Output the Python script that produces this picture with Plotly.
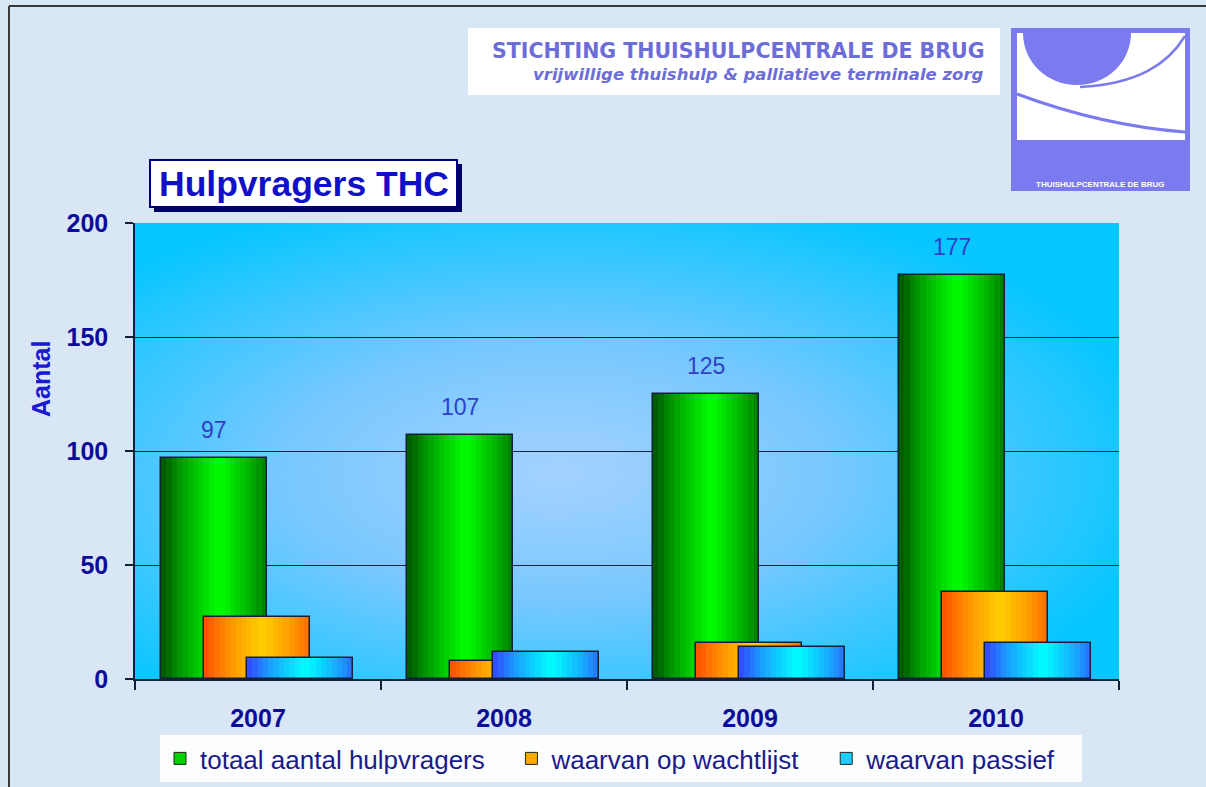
import base64
import plotly.graph_objects as go

# ---------------- data ----------------
years = ["2007", "2008", "2009", "2010"]
totaal = [97, 107, 125, 177]
wachtlijst = [27, 8, 16, 38]
passief = [9, 12, 14, 16]
series_names = ["totaal aantal hulpvragers", "waarvan op wachtlijst", "waarvan passief"]
y_ticks = [0, 50, 100, 150, 200]

# ---------------- layout constants ----------------
FIG_W, FIG_H = 1206, 787
M_L, M_R, M_T, M_B = 135, 87, 223, 108
PW = FIG_W - M_L - M_R
PH = FIG_H - M_T - M_B


def px(x):
    return (x - M_L) / PW


def py(y):
    return 1 - (y - M_T) / PH


BAR_W = 0.43
BAR_LEFT = [-0.394, -0.22, -0.045]
GRADIENTS = [("#005c00", "#00ff00"), ("#ff5500", "#ffd000"), ("#3050ff", "#00ffff")]
LEGEND_COLORS = ["#00d000", "#ffaa00", "#20ccff"]
N_STRIPS = 20
OUTLINE = "#14203a"
NAVY = "#0c0c9a"
NBSP = "\u00a0"


def hex2rgb(h):
    h = h.lstrip("#")
    return tuple(int(h[i:i + 2], 16) for i in (0, 2, 4))


def mix(c1, c2, t):
    a, b = hex2rgb(c1), hex2rgb(c2)
    return "rgb(%d,%d,%d)" % tuple(round(a[i] + (b[i] - a[i]) * t) for i in range(3))


fig = go.Figure()

series_values = [totaal, wachtlijst, passief]
for s, vals in enumerate(series_values):
    edge, mid = GRADIENTS[s]
    left = BAR_LEFT[s]
    step = BAR_W / N_STRIPS
    for i in range(N_STRIPS):
        t = (i + 0.5) / N_STRIPS
        k = max(0.0, 1 - abs(2 * t - 1.1)) ** 0.75
        w = step * 1.6 if i < N_STRIPS - 1 else step
        fig.add_trace(go.Bar(
            x=years, y=vals, offset=left + i * step, width=w,
            marker=dict(color=mix(edge, mid, k), line=dict(width=0)),
            showlegend=False, hoverinfo="skip",
        ))
    fig.add_trace(go.Bar(
        x=years, y=vals, offset=left, width=BAR_W, name=series_names[s],
        marker=dict(color="rgba(0,0,0,0)", line=dict(color=OUTLINE, width=1.5)),
        showlegend=False,
    ))

# legend-only entries
legend_pad = [3, 3, 3]
for s in range(3):
    fig.add_trace(go.Bar(
        x=years, y=[None] * len(years), name=series_names[s] + NBSP * legend_pad[s],
        marker=dict(color=LEGEND_COLORS[s], line=dict(color="#1a2a1a", width=1)),
        showlegend=True,
    ))

# data labels on totals
annotations = []
for i, v in enumerate(totaal):
    annotations.append(dict(
        x=i + BAR_LEFT[0] + BAR_W / 2, y=v, xref="x", yref="y",
        text=str(v), showarrow=False, yanchor="bottom", yshift=13,
        font=dict(family="Liberation Sans", size=23, color="#3040c8"),
    ))

# header texts, title, axis title
annotations += [
    dict(x=px(986), y=py(51), xref="paper", yref="paper", xanchor="right", yanchor="middle",
         text="<b>STICHTING THUISHULPCENTRALE DE BRUG</b>", showarrow=False,
         font=dict(family="DejaVu Sans", size=20.5, color="#6d6dd8")),
    dict(x=px(986), y=py(74), xref="paper", yref="paper", xanchor="right", yanchor="middle",
         text="<b><i>vrijwillige thuishulp &amp; palliatieve terminale zorg</i></b>", showarrow=False,
         font=dict(family="DejaVu Sans", size=16.5, color="#6d6dd8")),
    dict(x=px(304), y=py(184), xref="paper", yref="paper", xanchor="center", yanchor="middle",
         text="<b>Hulpvragers THC</b>", showarrow=False,
         font=dict(family="Liberation Sans", size=35.5, color="#1010c8")),
    dict(x=px(1100), y=py(184), xref="paper", yref="paper", xanchor="center", yanchor="middle",
         text="<b>THUISHULPCENTRALE DE BRUG</b>", showarrow=False,
         font=dict(family="Liberation Sans", size=8, color="white")),
    dict(x=px(41), y=py(379), xref="paper", yref="paper", xanchor="center", yanchor="middle",
         text="<b>Aantal</b>", textangle=-90, showarrow=False,
         font=dict(family="Liberation Sans", size=25, color="#1a1ad0")),
]


def rect(x0, y0, x1, y1, fill, line=None, lw=0):
    return dict(type="rect", xref="paper", yref="paper", x0=px(x0), x1=px(x1), y0=py(y1), y1=py(y0),
                fillcolor=fill, line=dict(color=line or fill, width=lw), layer="above")


def path(points_cmd, fill=None, line=None, lw=0):
    return dict(type="path", xref="paper", yref="paper", path=points_cmd,
                fillcolor=fill or "rgba(0,0,0,0)", line=dict(color=line or "rgba(0,0,0,0)", width=lw),
                layer="above")


def P(x, y):
    return "%f,%f" % (px(x), py(y))


LOGO = "#7b7bef"
shapes = [
    # page frame (left + top)
    dict(type="line", xref="paper", yref="paper", x0=px(9), x1=px(9), y0=py(6), y1=py(800),
         line=dict(color="#3a3a3a", width=2)),
    dict(type="line", xref="paper", yref="paper", x0=px(9), x1=px(1220), y0=py(6), y1=py(6),
         line=dict(color="#3a3a3a", width=2)),
    # header box
    rect(468, 28, 1000, 95, "white"),
    # logo
    rect(1011, 28, 1190, 191, LOGO),
    rect(1017, 33, 1185, 140, "white"),
    path("M " + P(1023, 33) + " C " + P(1023, 62) + " " + P(1047, 85) + " " + P(1077, 85)
         + " C " + P(1107, 85) + " " + P(1131, 62) + " " + P(1131, 33) + " Z", fill=LOGO),
    path("M " + P(1185, 36) + " C " + P(1168, 64) + " " + P(1138, 84) + " " + P(1080, 87),
         line=LOGO, lw=2.5),
    path("M " + P(1017, 94) + " C " + P(1060, 110) + " " + P(1120, 127) + " " + P(1185, 132),
         line=LOGO, lw=3),
    # title box with shadow
    rect(154, 164, 462, 212, "#000066"),
    rect(150, 160, 457, 207, "white", line="#00007a", lw=2),
]

svg = ('<svg xmlns="http://www.w3.org/2000/svg" width="100" height="100" viewBox="0 0 100 100" '
       'preserveAspectRatio="none"><defs><radialGradient id="g" cx="43%" cy="55%" r="62%">'
       '<stop offset="0" stop-color="#a4d2ff"/><stop offset="0.45" stop-color="#78c8ff"/>'
       '<stop offset="1" stop-color="#08c6ff"/></radialGradient></defs>'
       '<rect width="100" height="100" fill="url(#g)"/></svg>')
svg_uri = "data:image/svg+xml;base64," + base64.b64encode(svg.encode()).decode()

fig.update_layout(
    width=FIG_W, height=FIG_H,
    margin=dict(l=M_L, r=M_R, t=M_T, b=M_B, autoexpand=False),
    paper_bgcolor="#d9e6f5",
    plot_bgcolor="#40c8ff",
    barmode="overlay",
    bargap=0,
    showlegend=True,
    legend=dict(
        orientation="h", x=px(160), y=py(735), xanchor="left", yanchor="top",
        bgcolor="rgba(255,255,255,0.92)", borderwidth=0,
        font=dict(family="Liberation Sans", size=26, color="#1a1a8c"),
        traceorder="normal", itemclick=False,
    ),
    images=[dict(source=svg_uri, xref="paper", yref="paper", x=0, y=1, sizex=1, sizey=1,
                 xanchor="left", yanchor="top", sizing="stretch", layer="below")],
    shapes=shapes,
    annotations=annotations,
    xaxis=dict(
        type="category", range=[-0.5, 3.5], showgrid=False, zeroline=False,
        showline=True, linecolor=OUTLINE, linewidth=1.5,
        ticks="outside", tickson="boundaries", ticklen=9, tickcolor=OUTLINE, tickwidth=1.5,
        ticklabelstandoff=16,
        tickfont=dict(family="Liberation Sans", size=25, color=NAVY, weight="bold"),
    ),
    yaxis=dict(
        range=[0, 200], tickvals=y_ticks, showgrid=True, gridcolor="#1a2040", gridwidth=1.3,
        zeroline=False, showline=True, linecolor=OUTLINE, linewidth=1.5,
        ticks="outside", ticklen=8, tickcolor=OUTLINE, tickwidth=1.5,
        ticklabelstandoff=12,
        tickfont=dict(family="Liberation Sans", size=25, color=NAVY, weight="bold"),
    ),
)

fig.write_html("out.html", config={"displayModeBar": False},
               post_script="document.body.style.margin='0';")
